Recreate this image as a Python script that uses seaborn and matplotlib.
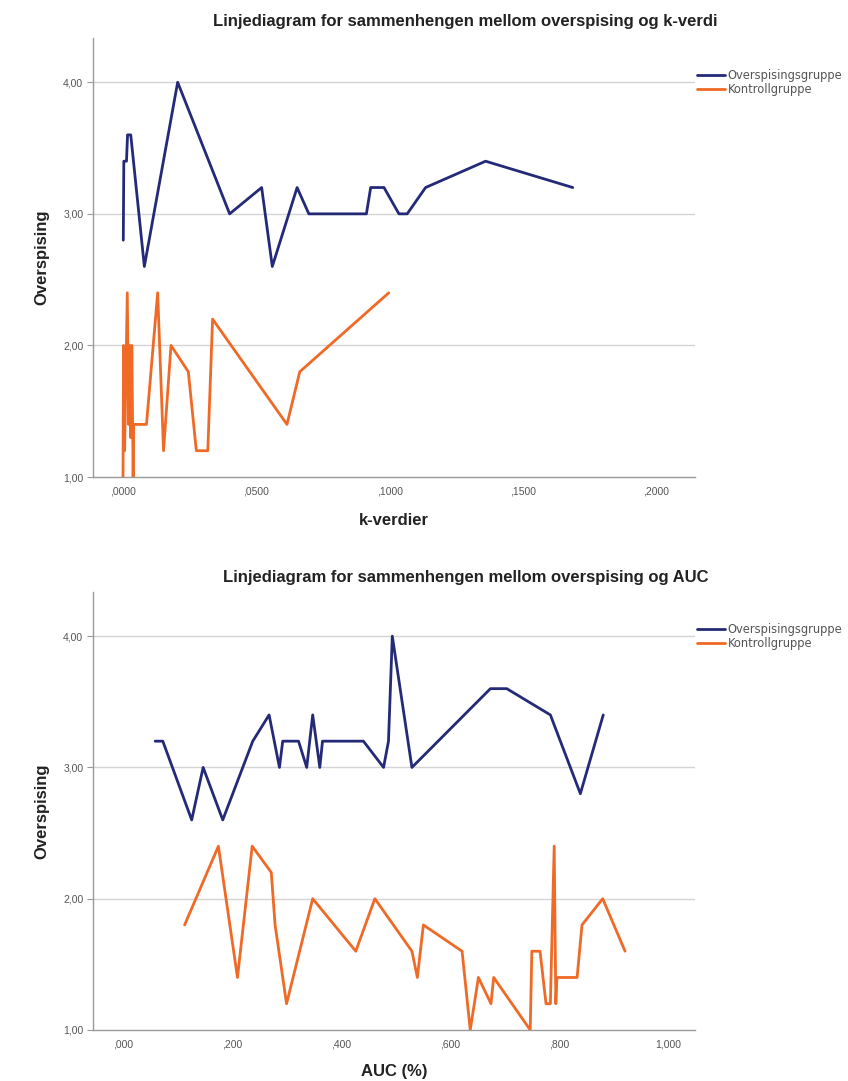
import numpy as np
import pandas as pd
import matplotlib
matplotlib.use("Agg")
import matplotlib.pyplot as plt
import seaborn as sns
from matplotlib.ticker import FixedLocator, FixedFormatter

# ---------------- data ----------------
groups = ["Overspisingsgruppe", "Kontrollgruppe"]

k_over_x = [0.0001, 0.0003, 0.0013, 0.0017, 0.0029, 0.0080, 0.0205, 0.0400, 0.0520,
            0.0560, 0.0653, 0.0697, 0.0913, 0.0929, 0.0979, 0.1035, 0.1066, 0.1135,
            0.1360, 0.1687]
k_over_y = [2.8, 3.4, 3.4, 3.6, 3.6, 2.6, 4.0, 3.0, 3.2,
            2.6, 3.2, 3.0, 3.0, 3.2, 3.2, 3.0, 3.0, 3.2,
            3.4, 3.2]

k_ctrl_x = [0.0000, 0.0002, 0.0006, 0.0016, 0.0021, 0.0025, 0.0029, 0.0033, 0.0038,
            0.0040, 0.0088, 0.0130, 0.0152, 0.0180, 0.0245, 0.0275, 0.0318, 0.0336,
            0.0615, 0.0663, 0.0997]
k_ctrl_y = [1.0, 2.0, 1.2, 2.4, 1.4, 2.0, 1.3, 2.0, 1.0,
            1.4, 1.4, 2.4, 1.2, 2.0, 1.8, 1.2, 1.2, 2.2,
            1.4, 1.8, 2.4]

auc_over_x = [0.059, 0.073, 0.126, 0.147, 0.183, 0.238, 0.268, 0.287, 0.293, 0.322,
              0.337, 0.348, 0.361, 0.366, 0.441, 0.478, 0.487, 0.494, 0.530, 0.674,
              0.704, 0.784, 0.839, 0.881]
auc_over_y = [3.2, 3.2, 2.6, 3.0, 2.6, 3.2, 3.4, 3.0, 3.2, 3.2,
              3.0, 3.4, 3.0, 3.2, 3.2, 3.0, 3.2, 4.0, 3.0, 3.6,
              3.6, 3.4, 2.8, 3.4]

auc_ctrl_x = [0.113, 0.175, 0.210, 0.237, 0.272, 0.279, 0.300, 0.348, 0.427, 0.462,
              0.530, 0.540, 0.551, 0.622, 0.637, 0.652, 0.675, 0.680, 0.747, 0.750,
              0.765, 0.776, 0.784, 0.791, 0.794, 0.796, 0.833, 0.842, 0.880, 0.921]
auc_ctrl_y = [1.8, 2.4, 1.4, 2.4, 2.2, 1.8, 1.2, 2.0, 1.6, 2.0,
              1.6, 1.4, 1.8, 1.6, 1.0, 1.4, 1.2, 1.4, 1.0, 1.6,
              1.6, 1.2, 1.2, 2.4, 1.2, 1.4, 1.4, 1.8, 2.0, 1.6]

y_ticks = [1, 2, 3, 4]
y_tick_labels = ["1,00", "2,00", "3,00", "4,00"]
k_ticks = [0.0, 0.05, 0.10, 0.15, 0.20]
k_tick_labels = [",0000", ",0500", ",1000", ",1500", ",2000"]
auc_ticks = [0.0, 0.2, 0.4, 0.6, 0.8, 1.0]
auc_tick_labels = [",000", ",200", ",400", ",600", ",800", "1,000"]

titles = ["Linjediagram for sammenhengen mellom overspising og k-verdi",
          "Linjediagram for sammenhengen mellom overspising og AUC"]
x_labels = ["k-verdier", "AUC (%)"]
y_label = "Overspising"

palette = {"Overspisingsgruppe": "#242a78", "Kontrollgruppe": "#ef6a26"}

# ---------------- build frames ----------------
def make_df(ox, oy, cx, cy):
    return pd.concat([
        pd.DataFrame({"x": ox, "y": oy, "gruppe": groups[0]}),
        pd.DataFrame({"x": cx, "y": cy, "gruppe": groups[1]}),
    ], ignore_index=True)

df_k = make_df(k_over_x, k_over_y, k_ctrl_x, k_ctrl_y)
df_auc = make_df(auc_over_x, auc_over_y, auc_ctrl_x, auc_ctrl_y)

sns.set_theme(style="white")
plt.rcParams["font.family"] = ["Liberation Sans", "DejaVu Sans"]

fig = plt.figure(figsize=(8.48, 10.81), dpi=100)
ax1 = fig.add_axes([0.1097, 0.5587, 0.710, 0.406])
ax2 = fig.add_axes([0.1097, 0.0472, 0.710, 0.405])

configs = [
    (ax1, df_k, (-0.01125, 0.2146), k_ticks, k_tick_labels, 0.980, 12),
    (ax2, df_auc, (-0.055, 1.0495), auc_ticks, auc_tick_labels, 0.4655, 10),
]

for i, (ax, df, xlim, xt, xtl, ty, lp) in enumerate(configs):
    sns.lineplot(data=df, x="x", y="y", hue="gruppe", hue_order=groups,
                 palette=palette, estimator=None, sort=False, linewidth=2.0,
                 ax=ax)
    ax.set_xlim(*xlim)
    ax.set_ylim(1.0, 4.335)
    ax.yaxis.set_major_locator(FixedLocator(y_ticks))
    ax.yaxis.set_major_formatter(FixedFormatter(y_tick_labels))
    ax.xaxis.set_major_locator(FixedLocator(xt))
    ax.xaxis.set_major_formatter(FixedFormatter(xtl))
    for yv in [2, 3, 4]:
        ax.axhline(yv, color="#d4d4d4", linewidth=1.0, zorder=0)
    for s in ["top", "right"]:
        ax.spines[s].set_visible(False)
    for s in ["left", "bottom"]:
        ax.spines[s].set_color("#9a9a9a")
        ax.spines[s].set_linewidth(1.0)
    ax.tick_params(axis="y", length=4, width=0.8, color="#9a9a9a",
                   labelsize=7.5, labelcolor="#555555", pad=3, left=True)
    ax.tick_params(axis="x", length=0, labelsize=7.5, labelcolor="#555555", pad=7)
    ax.set_xlabel(x_labels[i], fontsize=12, fontweight="bold", color="#222222", labelpad=lp)
    ax.set_ylabel(y_label, fontsize=12, fontweight="bold", color="#222222", labelpad=10)
    leg = ax.legend(loc="upper left", bbox_to_anchor=(1.003, 0.93), frameon=False,
                    handlelength=2.4, handletextpad=0.25, borderaxespad=0,
                    borderpad=0, labelspacing=0.1,
                    prop={"family": "DejaVu Sans", "size": 8.3})
    for t in leg.get_texts():
        t.set_color("#555555")
    for line in leg.get_lines():
        line.set_linewidth(2.0)
    fig.text(0.549, ty, titles[i], ha="center", va="center", fontsize=12,
             fontweight="bold", color="#222222")

fig.savefig("out.png", dpi=100)
